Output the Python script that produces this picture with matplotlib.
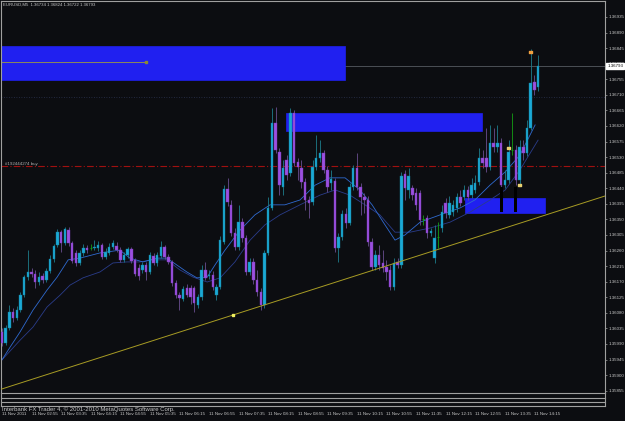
"""MT4 style EURUSD M5 candlestick screenshot, redrawn with matplotlib."""

import numpy as np
import matplotlib

matplotlib.use("Agg")
import matplotlib.pyplot as plt
from matplotlib.lines import Line2D
from matplotlib.patches import Rectangle

plt.rcParams["font.family"] = ["Liberation Sans Narrow", "Liberation Sans", "DejaVu Sans"]

# ---- data (prices in points, 1e-5) ----
opens = [136024, 135993, 136036, 136082, 136065, 136088, 136131, 136183, 136198, 136192,
         136169, 136186, 136175, 136201, 136235, 136276, 136313, 136282, 136319, 136282,
         136253, 136224, 136253, 136267, 136268, 136267, 136267, 136276, 136241, 136253,
         136270, 136273, 136262, 136233, 136247, 136264, 136233, 136209, 136204, 136218,
         136198, 136244, 136224, 136244, 136270, 136241, 136227, 136166, 136131, 136120,
         136152, 136152, 136152, 136102, 136126, 136204, 136186, 136189, 136131, 136155,
         136285, 136438, 136392, 136311, 136270, 136342, 136296, 136198, 136227, 136175,
         136140, 136102, 136253, 136383, 136628, 136545, 136444, 136522, 136484, 136657,
         136516, 136498, 136458, 136406, 136400, 136501, 136527, 136542, 136493, 136455,
         136461, 136267, 136299, 136366, 136340, 136444, 136498, 136444, 136415, 136406,
         136285, 136212, 136247, 136224, 136212, 136204, 136155, 136227, 136218, 136481,
         136435, 136441, 136426, 136426, 136350, 136354, 136311, 136238, 136300, 136325,
         136397, 136363, 136371, 136383, 136415, 136415, 136435, 136420, 136435, 136458,
         136527, 136527, 136501, 136571, 136559, 136571, 136449, 136464, 136550, 136550,
         136464, 136559, 136542, 136614, 136747, 136734]
highs = [136036, 136045, 136102, 136094, 136100, 136140, 136189, 136262, 136209, 136204,
         136198, 136195, 136209, 136247, 136279, 136322, 136319, 136328, 136328, 136288,
         136262, 136262, 136279, 136276, 136279, 136290, 136288, 136282, 136267, 136282,
         136290, 136285, 136270, 136256, 136270, 136270, 136238, 136221, 136227, 136227,
         136256, 136253, 136256, 136288, 136276, 136250, 136233, 136175, 136140, 136157,
         136163, 136160, 136157, 136134, 136218, 136227, 136204, 136201, 136163, 136302,
         136449, 136470, 136406, 136325, 136392, 136354, 136305, 136238, 136238, 136204,
         136152, 136262, 136415, 136672, 136675, 136556, 136522, 136536, 136672, 136666,
         136527, 136522, 136470, 136418, 136522, 136594, 136579, 136550, 136504, 136493,
         136470, 136311, 136377, 136383, 136455, 136507, 136542, 136455, 136426, 136418,
         136296, 136262, 136276, 136262, 136233, 136218, 136238, 136238, 136487, 136493,
         136498, 136449, 136441, 136435, 136363, 136363, 136325, 136334, 136342, 136392,
         136412, 136418, 136406, 136426, 136435, 136449, 136446, 136470, 136478, 136556,
         136550, 136614, 136623, 136614, 136623, 136585, 136493, 136579, 136657, 136565,
         136579, 136579, 136637, 136842, 136767, 136824]
lows = [135984, 135987, 136030, 136053, 136059, 136082, 136126, 136175, 136183, 136152,
        136160, 136166, 136169, 136195, 136227, 136270, 136256, 136276, 136273, 136224,
        136215, 136218, 136244, 136253, 136262, 136262, 136259, 136235, 136235, 136247,
        136264, 136256, 136227, 136227, 136238, 136224, 136186, 136175, 136195, 136175,
        136192, 136218, 136215, 136238, 136235, 136221, 136157, 136123, 136088, 136114,
        136126, 136105, 136082, 136094, 136117, 136175, 136178, 136146, 136117, 136149,
        136279, 136389, 136302, 136262, 136262, 136285, 136189, 136189, 136163, 136129,
        136088, 136094, 136247, 136377, 136542, 136420, 136420, 136464, 136475, 136504,
        136464, 136441, 136377, 136354, 136392, 136493, 136516, 136484, 136429, 136435,
        136256, 136227, 136290, 136325, 136334, 136435, 136435, 136363, 136368, 136273,
        136204, 136204, 136204, 136198, 136175, 136146, 136146, 136209, 136209, 136406,
        136412, 136406, 136377, 136334, 136334, 136296, 136302, 136224, 136267, 136313,
        136354, 136354, 136360, 136371, 136389, 136406, 136406, 136412, 136426, 136449,
        136498, 136487, 136493, 136545, 136545, 136435, 136441, 136455, 136536, 136449,
        136449, 136522, 136533, 136608, 136709, 136722]
closes = [135993, 136036, 136082, 136065, 136088, 136131, 136183, 136198, 136192, 136169,
          136183, 136175, 136201, 136235, 136273, 136313, 136282, 136322, 136282, 136230,
          136224, 136253, 136267, 136262, 136268, 136270, 136276, 136241, 136256, 136270,
          136282, 136262, 136233, 136247, 136264, 136230, 136192, 136186, 136218, 136198,
          136247, 136224, 136247, 136270, 136241, 136227, 136166, 136131, 136123, 136149,
          136131, 136126, 136108, 136126, 136204, 136181, 136189, 136155, 136155, 136290,
          136438, 136400, 136311, 136270, 136342, 136296, 136198, 136227, 136175, 136140,
          136102, 136253, 136383, 136628, 136550, 136449, 136498, 136478, 136657, 136513,
          136501, 136458, 136406, 136397, 136501, 136527, 136542, 136493, 136444, 136467,
          136267, 136299, 136366, 136340, 136444, 136498, 136444, 136415, 136406, 136285,
          136212, 136247, 136218, 136209, 136198, 136155, 136224, 136218, 136475, 136441,
          136475, 136420, 136392, 136348, 136350, 136311, 136316, 136296, 136300, 136371,
          136368, 136397, 136392, 136415, 136397, 136435, 136415, 136449, 136455, 136527,
          136513, 136501, 136571, 136559, 136571, 136449, 136464, 136545, 136550, 136464,
          136559, 136542, 136614, 136744, 136724, 136793]

# moving averages at a few bars
ma_fast_bar = [0, 2.2, 4.9, 8.4, 12.2, 14.9, 17.9, 21.1, 26.5, 31.9, 34.6, 38.1, 41.9, 44.6,
               47.3, 50.0, 52.7, 55.5, 57.6, 60.3, 64.4, 68.4, 72.5, 76.5, 80.6, 84.7, 88.7,
               92.8, 96.8, 100.1, 103.6, 106.3, 109.0, 113.1, 118.5, 123.9, 127.9, 132.0,
               136.1, 140.1, 144.2]
ma_fast_val = [1.35944, 1.35981, 1.36025, 1.36088, 1.36146, 1.36183, 1.36233, 1.36238,
               1.36253, 1.36261, 1.36238, 1.36227, 1.36238, 1.36238, 1.36218, 1.36198,
               1.36181, 1.36183, 1.36218, 1.36261, 1.36319, 1.36363, 1.36392, 1.36392,
               1.36406, 1.36449, 1.36470, 1.36470, 1.36435, 1.36392, 1.36334, 1.36290,
               1.36305, 1.36342, 1.36363, 1.36383, 1.36406, 1.36449, 1.36487, 1.36536,
               1.36623]
ma_slow_bar = [0, 4.9, 8.4, 12.2, 15.7, 18.4, 21.9, 26.5, 30.0, 33.8, 37.3, 40.8, 44.6, 48.1,
               51.7, 55.5, 59.0, 63.0, 67.1, 71.1, 75.2, 80.6, 86.0, 90.1, 94.1, 98.2, 102.2,
               106.3, 110.4, 115.8, 121.2, 126.6, 132.0, 136.1, 140.1, 145.0]
ma_slow_val = [1.35944, 1.36001, 1.36039, 1.36097, 1.36131, 1.36160, 1.36181, 1.36198,
               1.36224, 1.36227, 1.36227, 1.36233, 1.36233, 1.36204, 1.36183, 1.36169,
               1.36181, 1.36227, 1.36290, 1.36334, 1.36363, 1.36392, 1.36420, 1.36435,
               1.36420, 1.36392, 1.36363, 1.36313, 1.36313, 1.36325, 1.36342, 1.36371,
               1.36406, 1.36435, 1.36493, 1.36579]

# chart objects: (bar from, bar to), (price low, price high)
rect_bars = [(-5, 92.8), (76.9, 129.9), (125.2, 147.0)]
rect_prices = [(1.36753, 1.36851), (1.36605, 1.36657), (1.36368, 1.36412)]
order_bars = [135, 139]
order_range = (1.36371, 1.36444)
trend_bars = [0.0, 62.6]
trend_prices = [1.35860, 1.36074]
buy_level = 1.36504
buy_label = "#192444274 buy"
pending_level = 1.36704
hline_bar, hline_price = 39.0, 1.36805
marker_bars = [137, 140, 143]
marker_prices = [1.36556, 1.36449, 1.36834]

time_labels = ["11 Nov 2011", "11 Nov 02:55", "11 Nov 03:35", "11 Nov 04:15", "11 Nov 04:55",
               "11 Nov 05:35", "11 Nov 06:15", "11 Nov 06:55", "11 Nov 07:35", "11 Nov 08:15",
               "11 Nov 08:55", "11 Nov 09:35", "11 Nov 10:15", "11 Nov 10:55", "11 Nov 11:35",
               "11 Nov 12:15", "11 Nov 12:55", "11 Nov 13:35", "11 Nov 14:15"]
price_ticks = [1.36935, 1.36890, 1.36845, 1.36800, 1.36755, 1.36710, 1.36665, 1.36620,
               1.36575, 1.36530, 1.36485, 1.36440, 1.36395, 1.36350, 1.36305, 1.36260,
               1.36215, 1.36170, 1.36125, 1.36080, 1.36035, 1.35990, 1.35945, 1.35900,
               1.35855]
title = "EURUSD,M5  1.36734 1.36824 1.36722 1.36793"

BG = "#0c0d11"
FRAME = "#a0a0a0"
TXT = "#c8c8c8"
BULL = "#1ba9d6"
BULL_EDGE = "#137f9a"
BEAR = "#9b50e0"
BEAR_EDGE = "#7a3cb8"
BULL_WICK = "#1d7d8c"
BEAR_WICK = "#6a4e90"
DOJI = "#14a014"
OBJ_BLUE = "#2020f0"
SMALL = 3.2

W, H = 625, 421
fig = plt.figure(figsize=(W / 100, H / 100), dpi=100, facecolor=BG)
ax = fig.add_axes([1 / W, 1 - 393 / H, 604 / W, 392 / H], facecolor=BG)

o = np.array(opens) / 1e5
h = np.array(highs) / 1e5
l = np.array(lows) / 1e5
c = np.array(closes) / 1e5
x = np.arange(len(o))
bull = c > o
bear = c < o
doji = c == o

# background objects
for (b0, b1), (p0, p1) in zip(rect_bars, rect_prices):
    ax.add_patch(Rectangle((b0, p0), b1 - b0, p1 - p0, facecolor=OBJ_BLUE,
                           edgecolor=OBJ_BLUE, linewidth=0.5, zorder=1))
ax.axhline(buy_level, color="#a01010", linewidth=0.8, linestyle=(0, (6, 2, 1, 2)), zorder=1.5)
ax.axhline(pending_level, color="#2a3350", linewidth=0.6, linestyle=(0, (1, 2)), zorder=1.5)
ax.axhline(c[-1], color="#555a60", linewidth=0.6, zorder=0.8)
ax.plot([-5, hline_bar], [hline_price, hline_price], color="#8c8a5a", linewidth=0.7, zorder=2)
ax.plot([hline_bar], [hline_price], marker="s", markersize=2, color="#8c8a30", zorder=2)
ax.text(0.8, buy_level + 0.00004, buy_label, fontsize=SMALL, color="#b0b0b0", zorder=6)

# moving averages
ax.plot(ma_slow_bar, ma_slow_val, color="#2a3c8a", linewidth=0.6, zorder=2)
ax.plot(ma_fast_bar, ma_fast_val, color="#2f6ad0", linewidth=0.6, zorder=2)

# candles
wick_col = np.where(bull, BULL_WICK, np.where(bear, BEAR_WICK, DOJI))
ax.vlines(x, l, h, colors=list(wick_col), linewidth=0.6, zorder=4)
ax.bar(x[bull], (c - o)[bull], bottom=o[bull], width=0.66, color=BULL,
       edgecolor=BULL_EDGE, linewidth=0.3, zorder=5)
ax.bar(x[bear], (o - c)[bear], bottom=c[bear], width=0.66, color=BEAR,
       edgecolor=BEAR_EDGE, linewidth=0.3, zorder=5)
ax.hlines(o[doji], x[doji] - 0.33, x[doji] + 0.33, colors=DOJI, linewidth=0.6, zorder=5)
ax.bar(order_bars, order_range[1] - order_range[0], bottom=order_range[0], width=0.8,
       color="black", zorder=5)

# trend line and markers
ax.axline((trend_bars[0], trend_prices[0]), (trend_bars[1], trend_prices[1]),
          color="#a89c24", linewidth=0.7, zorder=6)
ax.plot(trend_bars[1], trend_prices[1], marker="s", markersize=1.8, color="#f0f060", zorder=7)
ax.scatter(marker_bars, marker_prices, marker="s", s=3, color=["#e8d070", "#e8d070", "#f0a040"],
           zorder=7)

ax.set_xlim(-0.27, 163.1)
ax.set_ylim(1.358482, 1.369811)

for side in ax.spines.values():
    side.set_color(FRAME)
    side.set_linewidth(0.8)

ax.yaxis.tick_right()
ax.set_yticks(price_ticks)
ax.set_yticklabels([f"{p:.5f}" for p in price_ticks])
ax.tick_params(axis="y", colors=FRAME, labelcolor=TXT, labelsize=SMALL, length=1.5, width=0.5,
               pad=1.0)
ax.set_xticks(np.arange(len(time_labels)) * 8)
ax.set_xticklabels(time_labels)
ax.tick_params(axis="x", labelcolor=TXT, labelsize=SMALL, length=0, pad=14)
for lab in ax.get_xticklabels():
    lab.set_ha("left")

# last price box
ax.text(1.004, c[-1], f"{c[-1]:.5f}", transform=ax.get_yaxis_transform(), fontsize=SMALL,
        color="black", va="center", ha="left", zorder=10,
        bbox=dict(facecolor="white", edgecolor="white", pad=0.8), clip_on=False)

# empty sub-window lines under the chart
for ypx in (398, 402, 406):
    fig.add_artist(Line2D([1 / W, 605 / W], [1 - ypx / H, 1 - ypx / H], color=FRAME, linewidth=0.8))
for xpx in (1, 605):
    fig.add_artist(Line2D([xpx / W, xpx / W], [1 - 393 / H, 1 - 406 / H], color=FRAME, linewidth=0.8))

fig.text(3 / W, 1 - 5 / H, title, fontsize=3.1, color=TXT, va="center", ha="left")
fig.text(2 / W, 1 - 409.5 / H, "Interbank FX Trader 4, © 2001-2010 MetaQuotes Software Corp.",
         fontsize=4.3, color=TXT, va="center", ha="left",
         family=["Liberation Sans", "DejaVu Sans"])

fig.savefig("out.png", dpi=100, facecolor=BG)
